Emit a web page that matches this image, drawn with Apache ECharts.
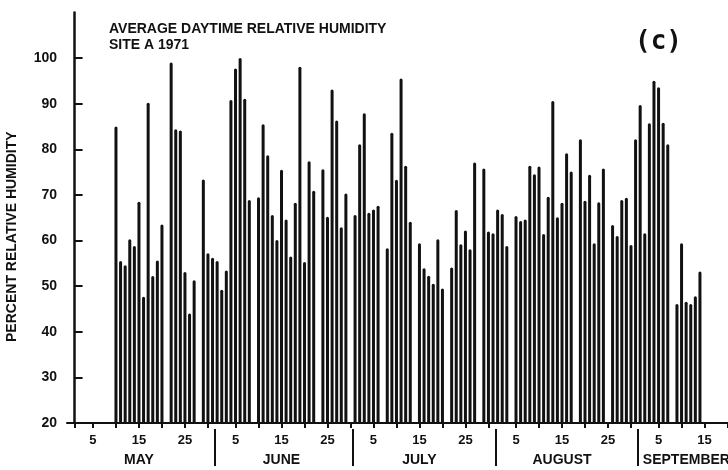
<!DOCTYPE html>
<html>
<head>
<meta charset="utf-8">
<script src="https://cdn.jsdelivr.net/npm/echarts@6/dist/echarts.min.js"></script>
<style>
  html, body { margin: 0; padding: 0; background: #fff; }
  #chart { width: 728px; height: 470px; }
</style>
</head>
<body>
<div id="chart"></div>
<script>
// daily values, day 1 first; null = no reading
const mayValues = [null, null, null, null, null, null, null, null, null,
  85, 55.5, 54.6, 60.3, 58.8, 68.5, 47.7, 90.2, 52.2, 55.6, 63.5, null,
  99, 84.4, 84.1, 53.1, 44, 51.3, null, 73.4, 57.2, 56.2]
const juneValues = [55.5, 49.2, 53.4, 90.8, 97.7, 100, 91.1, 68.9, null, 69.5,
  85.5, 78.7, 65.6, 60.1, 75.5, 64.6, 56.5, 68.3, 98.1, 55.3,
  77.4, 70.9, null, 75.6, 65.2, 93.1, 86.3, 62.9, 70.3, null]
const julyValues = [65.6, 81.1, 87.9, 66.1, 66.8, 67.6, null, 58.3, 83.6, 73.3,
  95.5, 76.4, 64.1, null, 59.4, 53.9, 52.3, 50.5, 60.3, 49.5,
  null, 54.1, 66.7, 59.2, 62.2, 58.1, 77.1, null, 75.8, 62.0, 61.6]
const augustValues = [66.8, 65.8, 58.8, null, 65.4, 64.3, 64.6, 76.4, 74.5, 76.2,
  61.4, 69.6, 90.6, 65.1, 68.3, 79.1, 75.1, null, 82.2, 68.7,
  74.4, 59.4, 68.4, 75.8, null, 63.4, 61, 68.9, 69.4, 59, 82.2]
const septemberValues = [89.7, 61.6, 85.7, 95, 93.6, 85.8, 81.1, null, 46.1, 59.4,
  46.6, 46.1, 47.8, 53.2]

const monthNames = ['MAY', 'JUNE', 'JULY', 'AUGUST', 'SEPTEMBER']
const monthLengths = [31, 30, 31, 31, 30]
const tickDays = [5, 10, 15, 20, 25, 30]
const labelDays = [5, 15, 25]
const yTicks = [20, 30, 40, 50, 60, 70, 80, 90, 100]

const font = "'Liberation Sans', Arial, sans-serif"

// x is the day number counted from 1 May (0 = 1 May)
const xMin = -1.65
const xMax = 142.1

const monthStarts = []
monthLengths.reduce((acc, len) => { monthStarts.push(acc); return acc + len }, 0)

const barData = []
;[mayValues, juneValues, julyValues, augustValues, septemberValues].forEach((vals, m) => {
  vals.forEach((v, i) => {
    if (v !== null) barData.push([monthStarts[m] + i, v])
  })
})

const dayTickPos = [0]
const dayLabelPos = []
monthStarts.forEach((start, m) => {
  tickDays.forEach(d => { if (d <= monthLengths[m] && start + d - 1 <= xMax) dayTickPos.push(start + d - 1) })
  labelDays.forEach(d => { if (start + d - 1 <= xMax) dayLabelPos.push(start + d - 1) })
})
const dividerPos = monthStarts.slice(1).map(s => s - 0.5)
// last month is cut by the right edge, so its name sits just after the divider
const monthLabelPos = monthStarts.map(s => Math.min(s + 14, (s + xMax) / 2 + 0.5))

const dayOf = (x) => {
  for (let m = monthStarts.length - 1; m >= 0; m--) {
    if (x >= monthStarts[m]) return Math.round(x - monthStarts[m] + 1)
  }
  return ''
}
const monthOf = (x) => {
  const i = monthLabelPos.findIndex(p => Math.abs(p - x) < 0.01)
  return i >= 0 ? monthNames[i] : ''
}

const ink = '#111'

const option = {
  backgroundColor: '#fff',
  animation: false,
  title: [{
    text: 'AVERAGE DAYTIME RELATIVE HUMIDITY\nSITE A 1971',
    left: 104,
    top: 16,
    textStyle: { color: ink, fontFamily: font, fontWeight: 'bold', fontSize: 14, lineHeight: 16 }
  }, {
    text: '(c)',
    left: 630,
    top: 24,
    textStyle: { color: ink, fontFamily: "'DejaVu Sans Mono', monospace", fontWeight: 'bold', fontSize: 26 }
  }],
  grid: { left: 67, right: 0, top: 12.4, bottom: 47, outerBoundsMode: 'none' },
  xAxis: [{
    type: 'value',
    min: xMin,
    max: xMax,
    axisLine: { lineStyle: { color: ink, width: 2 } },
    axisTick: { customValues: dayTickPos, length: 5, lineStyle: { color: ink, width: 2 } },
    axisLabel: {
      customValues: dayLabelPos,
      formatter: dayOf,
      margin: 11,
      color: ink,
      fontFamily: font,
      fontWeight: 'bold',
      fontSize: 13
    },
    splitLine: { show: false }
  }, {
    type: 'value',
    position: 'bottom',
    min: xMin,
    max: xMax,
    offset: 6,
    axisLine: { show: false },
    axisTick: { show: true, customValues: dividerPos, length: 37, lineStyle: { color: ink, width: 2 } },
    axisLabel: {
      customValues: monthLabelPos,
      formatter: monthOf,
      margin: 24,
      color: ink,
      fontFamily: font,
      fontWeight: 'bold',
      fontSize: 14
    },
    splitLine: { show: false }
  }],
  yAxis: {
    type: 'value',
    min: 20,
    max: 110,
    name: 'PERCENT RELATIVE HUMIDITY',
    nameLocation: 'middle',
    nameGap: 48,
    nameTextStyle: {
      color: ink,
      fontFamily: font,
      fontWeight: 'bold',
      fontSize: 14,
      padding: [0, 38, 0, 0]
    },
    axisLine: { show: true, lineStyle: { color: ink, width: 2.5 } },
    axisTick: { show: true, inside: true, customValues: yTicks, length: 8, lineStyle: { color: ink, width: 2 } },
    axisLabel: {
      customValues: yTicks,
      margin: 10,
      color: ink,
      fontFamily: font,
      fontWeight: 'bold',
      fontSize: 14
    },
    splitLine: { show: false }
  },
  series: [{
    type: 'bar',
    xAxisIndex: 0,
    data: barData,
    barWidth: 3,
    itemStyle: { color: ink, borderRadius: [1.5, 1.5, 0, 0] }
  }]
}

const chart = echarts.init(document.getElementById('chart'))
chart.setOption(option)
</script>
</body>
</html>
